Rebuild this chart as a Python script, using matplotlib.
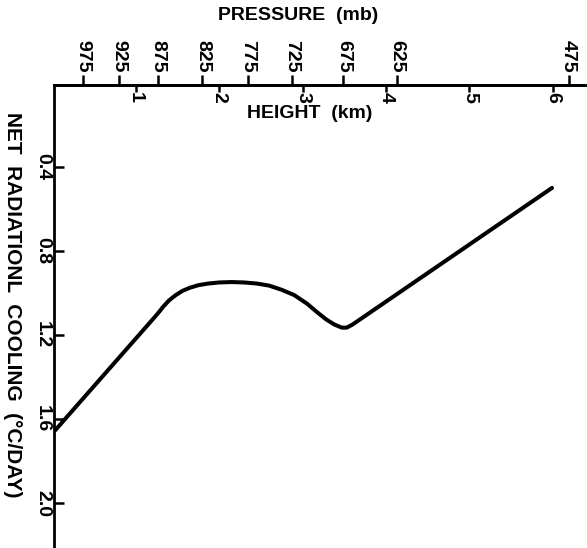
import matplotlib.pyplot as plt
import matplotlib as mpl

mpl.rcParams["font.family"] = ["Liberation Sans", "DejaVu Sans"]
mpl.rcParams["font.weight"] = "bold"

# net radiational cooling profile vs height
height_km = [0.02, 1.26, 1.33, 1.40, 1.48, 1.56, 1.65, 1.75, 1.87, 2.00, 2.15, 2.30,
             2.45, 2.60, 2.75, 2.90, 3.05, 3.17, 3.28, 3.38, 3.47, 3.53, 3.60, 5.99]
cooling = [1.66, 1.10, 1.065, 1.035, 1.01, 0.99, 0.975, 0.963, 0.955, 0.95, 0.948, 0.95,
           0.955, 0.965, 0.985, 1.01, 1.05, 1.09, 1.125, 1.15, 1.165, 1.165, 1.15, 0.50]

height_ticks = [1, 2, 3, 4, 5, 6]
cooling_ticks = [0.4, 0.8, 1.2, 1.6, 2.0]
cooling_labels = ["0.4", "0.8", "1.2", "1.6", "2.0"]

# pressure levels and the heights where they sit on the top axis
pressure_mb = [975, 925, 875, 825, 775, 725, 675, 625, 475]
pressure_height = [0.37, 0.80, 1.27, 1.80, 2.34, 2.87, 3.49, 4.13, 6.19]

W, H = 587, 548
fig = plt.figure(figsize=(W / 100, H / 100), dpi=100)
ax = fig.add_axes([54 / W, 0, 1 - 54 / W, 1 - 85 / H])

ax.plot(height_km, cooling, color="black", lw=2.9,
        solid_joinstyle="round", solid_capstyle="round")

ax.set_xlim(0.02, 6.41)
ax.set_ylim(2.214, 0.01)

# pressure axis sharing the top spine, ticks pointing out
tw = ax.twiny()
tw.set_xlim(ax.get_xlim())
for side in ["right", "bottom", "left"]:
    tw.spines[side].set_visible(False)
tw.spines["top"].set_linewidth(2.0)
tw.tick_params(axis="y", left=False, right=False, labelleft=False, labelright=False)
tw.set_xticks(pressure_height)
tw.set_xticklabels([str(p) for p in pressure_mb], rotation=-90, va="bottom",
                   ha="center", fontsize=14, fontweight="bold")
tw.tick_params(axis="x", direction="out", length=7, width=1.8, pad=2)

for side in ["right", "bottom"]:
    ax.spines[side].set_visible(False)
for side in ["left", "top"]:
    ax.spines[side].set_linewidth(2.0)

# height axis: ticks pointing in, labels under the top spine
ax.xaxis.tick_top()
ax.set_xticks(height_ticks)
ax.set_xticklabels([str(h) for h in height_ticks], rotation=-90, va="top",
                   ha="center", fontsize=14, fontweight="bold")
ax.tick_params(axis="x", direction="in", length=5, width=1.8, pad=-5,
               bottom=False, labelbottom=False, top=True, labeltop=True)

ax.set_yticks(cooling_ticks)
ax.set_yticklabels(cooling_labels, rotation=-90, va="center", ha="right",
                   fontsize=14, fontweight="bold")
ax.tick_params(axis="y", direction="in", length=7, width=1.8, pad=2)

ax.set_ylabel("NET  RADIATIONL  COOLING  (\u00b0C/DAY)", rotation=-90,
              fontsize=15, fontweight="bold", va="center", ha="center")
ax.yaxis.set_label_coords(-42 / 533, 1 - (305 - 85) / 463)

ax.text((310 - 54) / 533, 1 - (113 - 85) / 463, "HEIGHT  (km)",
        transform=ax.transAxes, ha="center", va="center",
        fontsize=14, fontweight="bold")

fig.text(298 / W, 1 - 16 / H, "PRESSURE  (mb)", ha="center", va="center",
         fontsize=14, fontweight="bold")

fig.savefig("out.png", dpi=100)
